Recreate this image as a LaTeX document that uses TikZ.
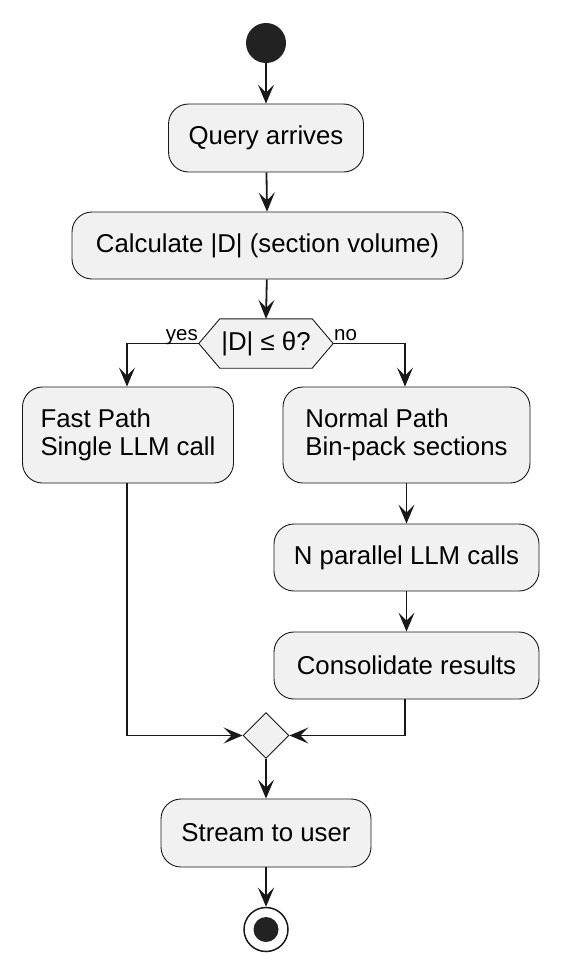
\documentclass[tikz,border=0pt]{standalone}
\usepackage{fontspec}
\setmainfont{Liberation Sans}
\usetikzlibrary{arrows.meta,shapes.geometric}
\definecolor{boxfill}{HTML}{F1F1F1}
\definecolor{boxline}{HTML}{181818}
\definecolor{dot}{HTML}{222222}
\begin{document}
\begin{tikzpicture}[x=1pt,y=-1pt,
  act/.style={draw=boxline,fill=boxfill,line width=0.9pt,rounded corners=20pt,
    inner sep=0pt,font=\fontsize{25.8}{28}\selectfont},
  lbl/.style={font=\fontsize{20.5}{24}\selectfont,inner sep=0pt},
  flow/.style={draw=boxline,line width=1.8pt,-{Stealth[length=19pt,width=16pt,inset=8pt]}},
  plain/.style={draw=boxline,line width=1.8pt}]
\useasboundingbox (0,0) rectangle (560,972);
\node[circle,fill=dot,minimum size=40pt,inner sep=0pt] (start) at (266,43) {};
\node[act,minimum width=195pt,minimum height=68pt] (q) at (266,138) {Query arrives};
\node[act,minimum width=391pt,minimum height=67pt] (calc) at (267.5,245.5) {Calculate |D| (section volume)};
\node[inner sep=0pt,minimum width=134pt,minimum height=49pt] (dec) at (266,343.5) {};
\draw[draw=boxline,fill=boxfill,line width=0.9pt]
  (dec.west) -- ([xshift=21pt]dec.north west) -- ([xshift=-21pt]dec.north east) -- (dec.east)
  -- ([xshift=-21pt]dec.south east) -- ([xshift=21pt]dec.south west) -- cycle;
\node[inner sep=0pt,font=\fontsize{25.8}{28}\selectfont] (dectext) at (dec.center) {|D| ≤ θ?};
\node[act,minimum width=211pt,minimum height=96pt,align=left] (fast) at (128,435) {Fast Path\\Single LLM call};
\node[act,minimum width=247pt,minimum height=96pt,align=left] (norm) at (406.5,435) {Normal Path\\Bin-pack sections};
\node[act,minimum width=265pt,minimum height=67pt] (npar) at (406.5,557.5) {N parallel LLM calls};
\node[act,minimum width=265pt,minimum height=67pt] (cons) at (406.5,665.5) {Consolidate results};
\node[diamond,aspect=1,draw=boxline,fill=boxfill,line width=0.9pt,minimum width=46pt,minimum height=46pt,inner sep=0pt] (merge) at (266,735.5) {};
\node[act,minimum width=210pt,minimum height=68pt] (stream) at (266,833) {Stream to user};
\node[circle,draw=boxline,line width=1.5pt,minimum size=44pt,inner sep=0pt] (end) at (266,929.5) {};
\node[circle,fill=dot,minimum size=25pt,inner sep=0pt] (endin) at (end.center) {};
\coordinate (fastin) at (fast.north -| 127,0);
\coordinate (normin) at (norm.north -| 405,0);
\draw[flow] (start) -- (q);
\draw[flow] (q) -- (calc);
\draw[flow] (calc) -- (dec.north);
\draw[flow] (dec.west) -| (fastin);
\draw[flow] (dec.east) -| (normin);
\node[lbl,anchor=base east] (yes) at (198,340) {yes};
\node[lbl,anchor=base west] (no) at (334,340) {no};
\draw[flow] (norm.south -| npar.north) -- (npar.north);
\draw[flow] (npar) -- (cons);
\draw[flow] (fast.south -| fastin) |- (merge.west);
\draw[flow] (cons.south -| normin) |- (merge.east);
\draw[flow] (merge) -- (stream);
\draw[flow] (stream) -- (end);
\end{tikzpicture}
\end{document}
